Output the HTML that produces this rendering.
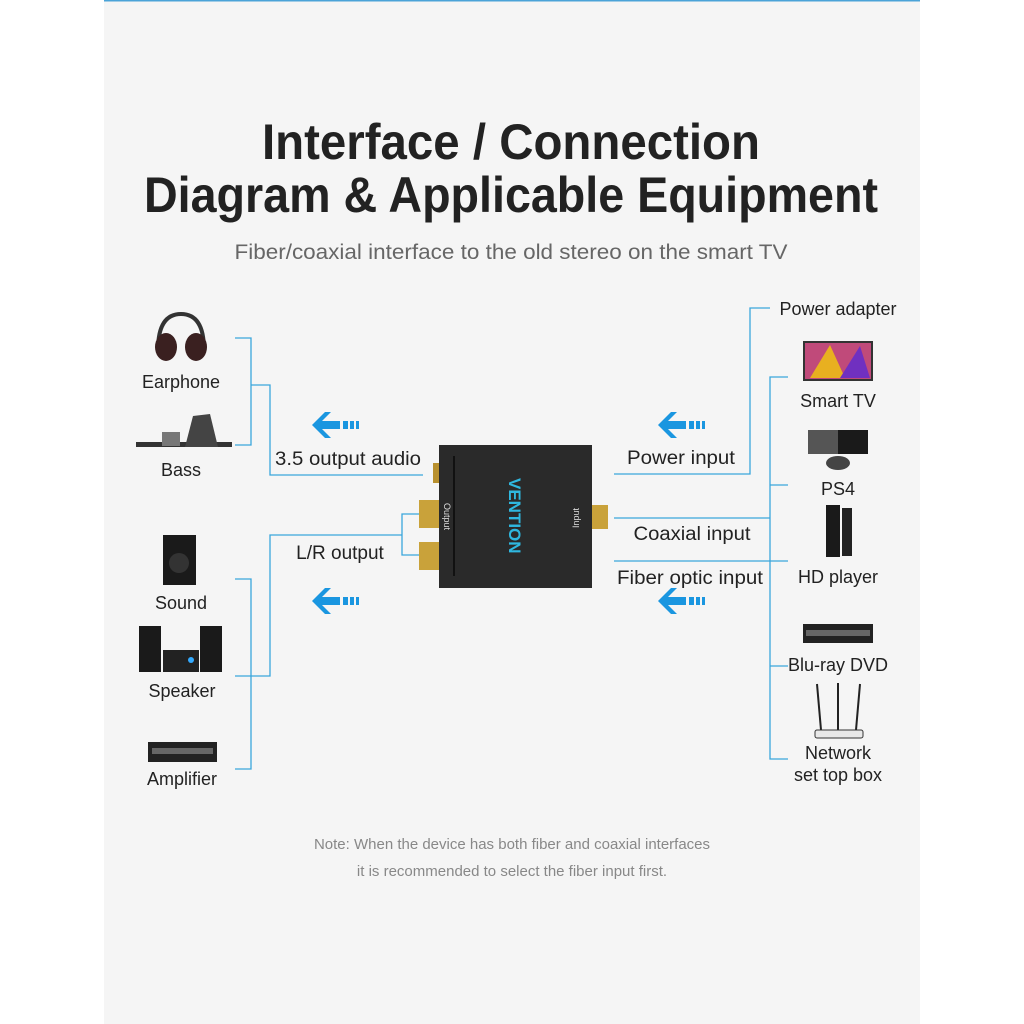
<!DOCTYPE html>
<html><head><meta charset="utf-8"><style>
html,body{margin:0;padding:0;background:#fff}
svg{display:block}
text{font-family:"Liberation Sans",sans-serif}
</style></head><body>
<svg width="1024" height="1024" viewBox="0 0 1024 1024" xmlns="http://www.w3.org/2000/svg">
<rect x="0" y="0" width="1024" height="1024" fill="#fff"/>
<rect x="104" y="0" width="816" height="1024" fill="#f5f5f5"/>
<rect x="104" y="0" width="816" height="1.5" fill="#4aa3d8"/>

<text x="511" y="159" font-size="50" font-weight="bold" fill="#222" text-anchor="middle" textLength="498" lengthAdjust="spacingAndGlyphs">Interface / Connection</text>
<text x="511" y="212" font-size="50" font-weight="bold" fill="#222" text-anchor="middle" textLength="734" lengthAdjust="spacingAndGlyphs">Diagram &amp; Applicable Equipment</text>
<text x="511" y="259" font-size="21" fill="#666" text-anchor="middle" textLength="553" lengthAdjust="spacingAndGlyphs">Fiber/coaxial interface to the old stereo on the smart TV</text>

<g stroke="#3aa6dc" stroke-width="1.3" fill="none">
<polyline points="235,338 251,338 251,445 235,445"/>
<polyline points="251,385 270,385 270,475 423,475"/>
<polyline points="235,579 251,579 251,769 235,769"/>
<polyline points="235,676 270,676 270,535 402,535"/>
<polyline points="420,514 402,514 402,555 420,555"/>
<polyline points="614,474 750,474 750,308 770,308"/>
<line x1="614" y1="518" x2="770" y2="518"/>
<line x1="614" y1="561" x2="788" y2="561"/>
<polyline points="788,377 770,377 770,759 788,759"/>
<line x1="770" y1="485" x2="788" y2="485"/>
<line x1="770" y1="666" x2="788" y2="666"/>
</g>

<g fill="#1a96e0">
<g id="arr"><polygon points="312,425 325,412 331,412 322,421 340,421 340,429 322,429 331,438 325,438"/><rect x="343" y="421" width="5" height="8"/><rect x="350" y="421" width="4" height="8"/><rect x="356" y="421" width="3" height="8"/></g>
<use href="#arr" transform="translate(0,176)"/>
<use href="#arr" transform="translate(346,0)"/>
<use href="#arr" transform="translate(346,176)"/>
</g>

<g font-size="19" fill="#222">
<text x="348" y="465" text-anchor="middle" textLength="146" lengthAdjust="spacingAndGlyphs">3.5 output audio</text>
<text x="340" y="559" text-anchor="middle">L/R output</text>
<text x="681" y="464" text-anchor="middle" textLength="108" lengthAdjust="spacingAndGlyphs">Power input</text>
<text x="692" y="540" text-anchor="middle" textLength="117" lengthAdjust="spacingAndGlyphs">Coaxial input</text>
<text x="690" y="584" text-anchor="middle" textLength="146" lengthAdjust="spacingAndGlyphs">Fiber optic input</text>
</g>
<g font-size="18" fill="#222" text-anchor="middle">
<text x="181" y="388">Earphone</text>
<text x="181" y="476">Bass</text>
<text x="181" y="609">Sound</text>
<text x="182" y="697">Speaker</text>
<text x="182" y="785">Amplifier</text>
<text x="838" y="315">Power adapter</text>
<text x="838" y="407">Smart TV</text>
<text x="838" y="495">PS4</text>
<text x="838" y="583">HD player</text>
<text x="838" y="671">Blu-ray DVD</text>
<text x="838" y="759">Network</text>
<text x="838" y="781">set top box</text>
</g>
<g font-size="15" fill="#888" text-anchor="middle">
<text x="512" y="849">Note: When the device has both fiber and coaxial interfaces</text>
<text x="512" y="876">it is recommended to select the fiber input first.</text>
</g>

<!-- device -->
<rect x="419" y="500" width="22" height="28" fill="#c9a23a"/><rect x="419" y="542" width="22" height="28" fill="#c9a23a"/>
<rect x="592" y="505" width="16" height="24" fill="#c9a23a"/>
<rect x="433" y="463" width="8" height="20" fill="#b8902e"/>
<rect x="439" y="445" width="153" height="143" fill="#2a2a2a"/>
<rect x="453" y="456" width="2" height="120" fill="#111"/>
<text transform="translate(509,478) rotate(90)" font-size="17" font-weight="bold" fill="#2fb8e0">VENTION</text>
<text transform="translate(444,503) rotate(90)" font-size="9" fill="#ddd">Output</text>
<text transform="translate(579,528) rotate(-90)" font-size="9" fill="#ddd">Input</text>

<!-- left icons -->
<g fill="#333">
<path d="M158 350 Q158 314 181 314 Q204 314 204 350" stroke="#333" stroke-width="4" fill="none"/>
<ellipse cx="166" cy="347" rx="11" ry="14" fill="#3a2020"/><ellipse cx="196" cy="347" rx="11" ry="14" fill="#3a2020"/>
<rect x="136" y="442" width="96" height="5"/><rect x="162" y="432" width="18" height="14" fill="#777"/>
<polygon points="185,447 193,416 210,414 218,447" fill="#444"/>
<rect x="163" y="535" width="33" height="50" fill="#1a1a1a"/><circle cx="179" cy="563" r="10" fill="#333"/>
<rect x="139" y="626" width="22" height="46" fill="#1a1a1a"/><rect x="200" y="626" width="22" height="46" fill="#1a1a1a"/><rect x="163" y="650" width="36" height="22" fill="#222"/><circle cx="191" cy="660" r="3" fill="#3af"/>
<rect x="148" y="742" width="69" height="20" fill="#222"/><rect x="152" y="748" width="61" height="6" fill="#666"/>
</g>
<!-- right icons -->
<rect x="803" y="341" width="70" height="40" fill="#333"/><rect x="805" y="343" width="66" height="36" fill="#c04a7a"/><polygon points="810,378 830,345 845,378" fill="#e8b020"/><polygon points="840,378 860,346 870,378" fill="#7030c0"/>
<rect x="808" y="430" width="60" height="24" fill="#555"/><rect x="838" y="430" width="30" height="24" fill="#1a1a1a"/><ellipse cx="838" cy="463" rx="12" ry="7" fill="#444"/>
<rect x="826" y="505" width="14" height="52" fill="#1a1a1a"/><rect x="842" y="508" width="10" height="48" fill="#222"/>
<rect x="803" y="624" width="70" height="19" fill="#222"/><rect x="806" y="630" width="64" height="6" fill="#666"/>
<g stroke="#222" stroke-width="2"><line x1="817" y1="684" x2="821" y2="730"/><line x1="838" y1="683" x2="838" y2="730"/><line x1="860" y1="684" x2="856" y2="730"/></g>
<rect x="815" y="730" width="48" height="8" rx="2" fill="#e8e8e8" stroke="#333"/>
</svg>
</body></html>
